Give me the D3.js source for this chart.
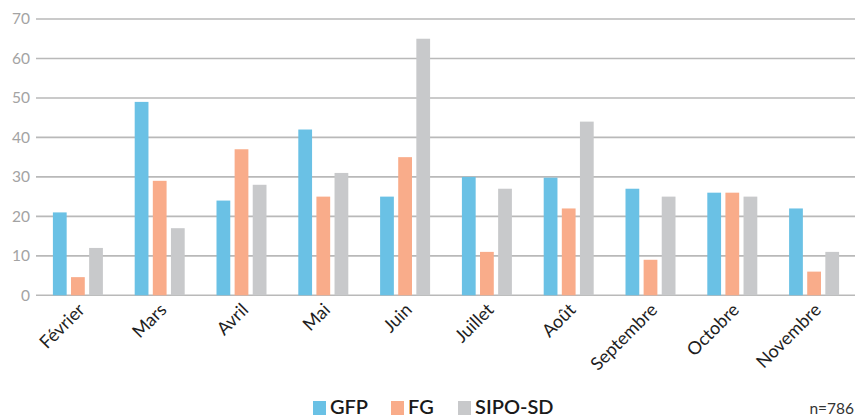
<!DOCTYPE html>
<html><head><meta charset="utf-8">
<script src="https://cdn.jsdelivr.net/npm/d3@7"></script>
<style>
body{margin:0;background:#fff;}
svg{display:block;font-family:Lato, "Open Sans", sans-serif;}
</style></head>
<body><svg id="c" width="855" height="419"></svg>
<script>
const months = ["Février","Mars","Avril","Mai","Juin","Juillet","Août","Septembre","Octobre","Novembre"];
const series = ["GFP","FG","SIPO-SD"];
const gfp  = [21,49,24,42,25,30,29.8,27,26,22];
const fg   = [4.6,29,37,25,35,11,22,9,26,6];
const sipo = [12,17,28,31,65,27,44,25,25,11];
const colors = ["#6ac1e5","#f9ac8a","#c8c9cb"];
const yTicks = [0,10,20,30,40,50,60,70];
const note = "n=786";

const values = [gfp, fg, sipo];
const svg = d3.select("#c");
const x0 = d3.scaleBand().domain(months).range([37,855]).padding(0);
const gw = 50;
const x1 = d3.scaleBand().domain(series).range([x0.bandwidth()/2 - gw/2, x0.bandwidth()/2 + gw/2]).paddingInner(0.24).paddingOuter(0);
const y = d3.scaleLinear().domain([0,70]).range([295.3,19]);

// gridlines
svg.append("g").selectAll("line").data(yTicks).join("line")
  .attr("x1",36).attr("x2",855)
  .attr("y1",d=>y(d)).attr("y2",d=>y(d))
  .attr("stroke","#b9b9b9").attr("stroke-width",1.6);

// y tick labels
svg.append("g").selectAll("text").data(yTicks).join("text")
  .attr("x",30).attr("y",d=>y(d)).attr("dy","0.35em")
  .attr("text-anchor","end").attr("fill","#a3a3a3")
  .attr("font-size",15.5).text(d=>d);

// bars
const groups = svg.append("g").selectAll("g").data(months).join("g")
  .attr("transform",d=>`translate(${x0(d)},0)`);
groups.selectAll("rect").data((m,i)=>series.map((s,j)=>({s, v:values[j][i], c:colors[j]})))
  .join("rect")
  .attr("x",d=>x1(d.s)).attr("width",x1.bandwidth())
  .attr("y",d=>y(d.v)).attr("height",d=>y(0)-y(d.v))
  .attr("fill",d=>d.c);

// x labels
svg.append("g").selectAll("text").data(months).join("text")
  .attr("transform",d=>`translate(${x0(d)+x0.bandwidth()/2+8},311) rotate(-45)`)
  .attr("text-anchor","end").attr("fill","#1e1e1e").attr("font-size",18)
  .text(d=>d);

// legend
const legX = [313, 391, 458];
const lg = svg.append("g");
series.forEach((s,j)=>{
  lg.append("rect").attr("x",legX[j]).attr("y",401).attr("width",13).attr("height",14).attr("fill",colors[j]);
  lg.append("text").attr("x",legX[j]+17).attr("y",414).attr("font-size",20).attr("font-weight",600)
    .attr("fill","#1a1a1a").text(s);
});
svg.append("text").attr("x",854).attr("y",414).attr("text-anchor","end").attr("font-size",15.5)
  .attr("fill","#333").text(note);
</script></body></html>
